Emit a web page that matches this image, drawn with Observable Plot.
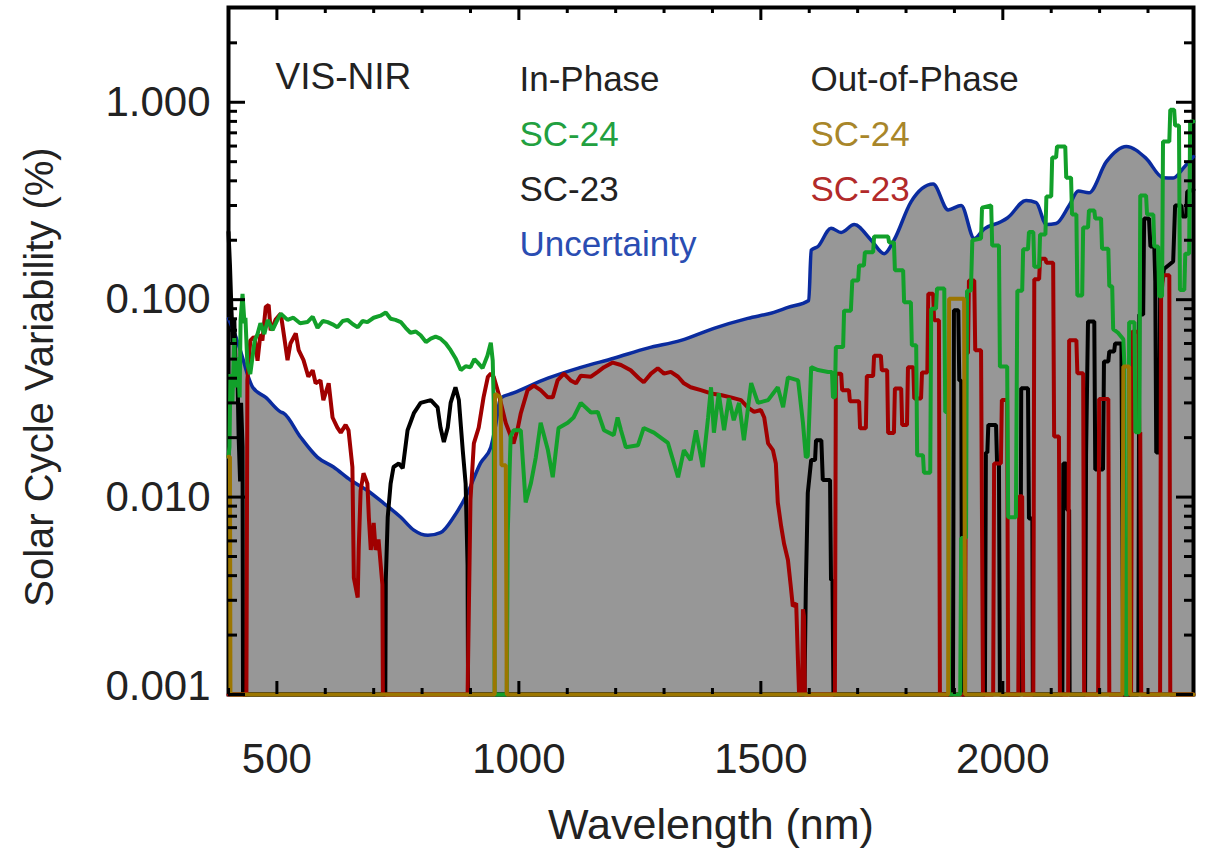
<!DOCTYPE html>
<html>
<head>
<meta charset="utf-8">
<script src="https://cdn.jsdelivr.net/npm/d3@7"></script>
<script src="https://cdn.jsdelivr.net/npm/@observablehq/plot@0.6"></script>
<style>
  html, body { margin: 0; padding: 0; background: #fff; }
</style>
</head>
<body>
<div id="chart"></div>
<script>
// ---------- data: [wavelength nm, variability %] (0 = below the 0.001 floor) ----------
const uncertainty = [[400,0.08],[415,0.065],[429,0.051],[439,0.042],[450,0.036],[477,0.032],[508,0.027],[514,0.0266],[549,0.0201],[584,0.0159],[617,0.0142],[652,0.0122],[687,0.0108],[721,0.0093],[756,0.0079],[783,0.0068],[812,0.0064],[838,0.0066],[865,0.0079],[894,0.0105],[921,0.0149],[942,0.0179],[952,0.0231],[962,0.0317],[989,0.0337],[1060,0.040],[1128,0.0454],[1196,0.0505],[1266,0.0568],[1335,0.0622],[1403,0.0716],[1473,0.0804],[1527,0.0863],[1556,0.0914],[1599,0.0991],[1604,0.178],[1618,0.186],[1645,0.230],[1666,0.219],[1693,0.240],[1728,0.200],[1755,0.171],[1775,0.200],[1810,0.312],[1856,0.385],[1887,0.285],[1914,0.300],[1941,0.204],[1961,0.228],[1996,0.248],[2010,0.26],[2048,0.318],[2069,0.31],[2090,0.24],[2110,0.243],[2137,0.30],[2156,0.355],[2178,0.348],[2214,0.50],[2255,0.597],[2296,0.52],[2331,0.415],[2352,0.413],[2375,0.47],[2394,0.53]];

const inPhaseSC24 = [[400,0.016],[402,0.018],[404,0.042],[408,0.030],[412,0.064],[414,0.036],[419,0.051],[423,0.032],[425,0.079],[429,0.107],[433,0.076],[435,0.081],[439,0.047],[445,0.042],[454,0.062],[460,0.067],[466,0.076],[474,0.067],[481,0.079],[491,0.070],[501,0.079],[508,0.085],[522,0.079],[534,0.081],[548,0.076],[563,0.077],[574,0.082],[584,0.072],[595,0.078],[605,0.077],[615,0.075],[625,0.0725],[636,0.078],[646,0.079],[657,0.075],[667,0.0725],[677,0.078],[687,0.077],[700,0.081],[714,0.083],[725,0.086],[735,0.080],[745,0.079],[756,0.077],[766,0.072],[776,0.068],[787,0.069],[797,0.066],[808,0.061],[818,0.0635],[828,0.065],[838,0.0635],[849,0.060],[859,0.0555],[870,0.050],[880,0.044],[890,0.046],[900,0.0455],[908,0.050],[915,0.048],[925,0.045],[935,0.052],[942,0.0605],[946,0.049],[948,0.030],[950,0],[975,0],[977,0.0066],[983,0.0203],[989,0.0218],[1004,0.0218],[1014,0.0094],[1025,0.0118],[1035,0.0159],[1045,0.0238],[1060,0.0173],[1070,0.0126],[1082,0.0224],[1101,0.0238],[1113,0.0253],[1128,0.030],[1149,0.0268],[1163,0.027],[1176,0.0218],[1196,0.0206],[1204,0.0253],[1211,0.0218],[1221,0.0179],[1246,0.0183],[1258,0.0224],[1279,0.0212],[1308,0.0188],[1329,0.0126],[1341,0.0173],[1355,0.0154],[1366,0.0218],[1380,0.0142],[1391,0.0253],[1397,0.036],[1403,0.0212],[1413,0.0336],[1424,0.0218],[1434,0.0317],[1444,0.0245],[1455,0.030],[1465,0.0194],[1480,0.0378],[1494,0.030],[1515,0.031],[1535,0.036],[1546,0.0285],[1556,0.0404],[1577,0.039],[1587,0.0238],[1593,0.0159],[1597,0.0161],[1604,0.0455],[1618,0.044],[1639,0.043],[1647,0.043],[1649,0.032],[1653,0.032],[1655,0.0575],[1670,0.0575],[1672,0.088],[1686,0.088],[1689,0.125],[1701,0.125],[1703,0.149],[1713,0.149],[1715,0.174],[1732,0.174],[1734,0.209],[1763,0.209],[1765,0.195],[1775,0.195],[1777,0.141],[1794,0.141],[1796,0.097],[1810,0.097],[1812,0.0588],[1821,0.0588],[1823,0.0163],[1835,0.0163],[1837,0.0133],[1850,0.0133],[1852,0.090],[1862,0.090],[1864,0.114],[1879,0.114],[1881,0.027],[1887,0.027],[1889,0],[1912,0],[1914,0.0062],[1924,0.0062],[1926,0.111],[1934,0.111],[1937,0.20],[1955,0.204],[1957,0.292],[1976,0.30],[1978,0.188],[1992,0.188],[1994,0.0458],[2009,0.0458],[2011,0.0079],[2027,0.0079],[2030,0.111],[2040,0.111],[2042,0.18],[2052,0.18],[2054,0.22],[2063,0.22],[2065,0.147],[2075,0.147],[2077,0.214],[2088,0.214],[2090,0.333],[2100,0.333],[2102,0.525],[2110,0.525],[2112,0.597],[2129,0.597],[2131,0.415],[2141,0.415],[2143,0.27],[2152,0.27],[2154,0.105],[2164,0.105],[2166,0.232],[2176,0.232],[2178,0.283],[2189,0.283],[2191,0.258],[2203,0.258],[2205,0.181],[2218,0.181],[2220,0.117],[2226,0.117],[2228,0.071],[2238,0.068],[2249,0.063],[2251,0.048],[2252,0],[2259,0],[2261,0.0768],[2272,0.0768],[2274,0.0213],[2282,0.0213],[2284,0.337],[2296,0.337],[2298,0.27],[2311,0.27],[2313,0.186],[2321,0.186],[2323,0.104],[2329,0.104],[2331,0.632],[2344,0.632],[2346,0.917],[2354,0.917],[2356,0.762],[2364,0.762],[2366,0.112],[2375,0.112],[2377,0.171],[2385,0.171],[2387,0.80],[2394,0.80]];

const inPhaseSC23 = [[400,0.22],[403,0.15],[406,0.09],[409,0.06],[412,0.08],[415,0.04],[418,0.05],[421,0.02],[424,0.012],[426,0.03],[429,0.018],[430,0],[724,0],[725,0.0038],[729,0.0079],[735,0.0117],[741,0.0142],[752,0.0148],[760,0.014],[770,0.0218],[783,0.0266],[797,0.030],[818,0.031],[832,0.0285],[838,0.0225],[845,0.019],[853,0.0225],[859,0.030],[869,0.036],[876,0.031],[884,0.0173],[890,0.0117],[894,0.0045],[895,0],[1590,0],[1593,0.0035],[1597,0.0105],[1604,0.0154],[1612,0.0154],[1614,0.0194],[1625,0.0194],[1628,0.0122],[1643,0.0122],[1645,0.0038],[1648,0.0038],[1650,0],[1897,0],[1899,0.0884],[1908,0.0884],[1910,0.039],[1914,0.039],[1916,0],[1963,0],[1965,0.0168],[1968,0.0168],[1970,0.0232],[1986,0.0232],[1988,0.0151],[1992,0.0151],[1994,0],[2036,0],[2038,0.0356],[2052,0.0356],[2054,0.0078],[2061,0.0078],[2062,0],[2123,0],[2125,0.0148],[2131,0.0148],[2133,0.0086],[2137,0.0086],[2138,0],[2170,0],[2172,0.0164],[2176,0.0775],[2189,0.0775],[2191,0.0138],[2207,0.0138],[2209,0.0486],[2218,0.0486],[2220,0.0547],[2230,0.0547],[2232,0.060],[2245,0.060],[2249,0],[2280,0],[2282,0.084],[2290,0.084],[2292,0.258],[2302,0.258],[2305,0.186],[2313,0.186],[2315,0.124],[2317,0.0168],[2323,0.0168],[2325,0.104],[2333,0.143],[2352,0.156],[2356,0.30],[2369,0.30],[2371,0.264],[2379,0.264],[2381,0.353],[2394,0.36]];

const outPhaseSC23 = [[400,0],[437,0],[439,0.039],[445,0.062],[452,0.0646],[454,0.064],[460,0.049],[466,0.067],[470,0.062],[477,0.092],[483,0.094],[487,0.070],[491,0.0725],[497,0.079],[508,0.085],[514,0.0675],[522,0.0494],[528,0.060],[539,0.0675],[545,0.0555],[555,0.0494],[565,0.0407],[574,0.0439],[580,0.0377],[590,0.039],[596,0.031],[607,0.0377],[615,0.0253],[625,0.0225],[632,0.0212],[642,0.0232],[648,0.0218],[656,0.0142],[659,0.0039],[667,0.0031],[669,0.0054],[673,0.0108],[679,0.0132],[687,0.0117],[690,0.0079],[694,0.0054],[700,0.0074],[704,0.0054],[710,0.0061],[718,0.0036],[719,0],[894,0],[900,0.0097],[907,0.0187],[917,0.0225],[927,0.032],[936,0.0407],[942,0.0422],[948,0.0407],[958,0.0335],[973,0.0237],[989,0.0187],[998,0.0225],[1004,0.0266],[1018,0.0348],[1031,0.0367],[1045,0.0348],[1060,0.032],[1070,0.032],[1080,0.039],[1093,0.0422],[1107,0.039],[1118,0.0377],[1128,0.0412],[1149,0.0407],[1163,0.0431],[1176,0.0455],[1194,0.048],[1211,0.0467],[1231,0.0439],[1248,0.040],[1258,0.0382],[1273,0.0422],[1287,0.0449],[1300,0.0422],[1314,0.0431],[1329,0.0407],[1341,0.0377],[1355,0.036],[1376,0.0348],[1397,0.0335],[1417,0.0329],[1438,0.032],[1459,0.031],[1473,0.0285],[1486,0.027],[1500,0.0276],[1507,0.0253],[1515,0.0187],[1525,0.0173],[1531,0.0148],[1535,0.0094],[1542,0.0071],[1548,0.0058],[1556,0.0048],[1562,0.0035],[1566,0.0028],[1573,0.0029],[1577,0.0014],[1579,0],[1585,0],[1587,0.0027],[1589,0.0025],[1591,0],[1653,0],[1655,0.0422],[1666,0.0422],[1668,0.0348],[1682,0.0348],[1684,0.0306],[1703,0.0306],[1705,0.0223],[1717,0.0223],[1719,0.041],[1732,0.041],[1734,0.052],[1748,0.052],[1750,0.0439],[1761,0.0439],[1763,0.0211],[1775,0.0211],[1777,0.0355],[1790,0.0355],[1792,0.0232],[1802,0.0232],[1804,0.0455],[1815,0.0455],[1817,0.0316],[1831,0.0316],[1833,0.0428],[1844,0.0428],[1846,0.107],[1856,0.107],[1858,0.0787],[1868,0.0787],[1870,0],[1922,0],[1924,0.0535],[1928,0.0535],[1930,0.125],[1941,0.125],[1943,0.0555],[1955,0.0555],[1959,0],[1980,0],[1982,0.0148],[1996,0.0148],[1998,0.031],[2009,0.031],[2011,0],[2032,0],[2034,0.0101],[2040,0.0101],[2042,0],[2063,0],[2065,0.127],[2075,0.127],[2077,0.161],[2088,0.161],[2090,0.154],[2104,0.154],[2106,0.0203],[2116,0.0203],[2118,0],[2135,0],[2137,0.0623],[2152,0.0623],[2154,0.0424],[2166,0.0424],[2168,0],[2197,0],[2199,0.0314],[2218,0.0314],[2220,0],[2265,0],[2267,0.0688],[2280,0.0688],[2282,0.0213],[2284,0.0213],[2286,0],[2325,0],[2327,0.101],[2331,0.133],[2344,0.133],[2346,0],[2394,0]];

const outPhaseSC24 = [[400,0.016],[403,0.016],[404,0],[950,0],[951,0.0334],[962,0.032],[964,0.0145],[973,0.0145],[975,0],[1887,0],[1889,0.101],[1920,0.101],[1922,0],[2247,0],[2249,0.0458],[2261,0.0458],[2263,0],[2394,0]];

// ---------- axes / labels ----------
const xDomain = [400, 2394];
const yDomain = [0.001, 3.02];
const xTickLabels = [500, 1000, 1500, 2000];
const xMinorTicks = d3.range(400, 2400, 100).filter(d => d % 500 !== 0);
const yTickLabels = [0.001, 0.01, 0.1, 1];
const yMinorTicks = [-3, -2, -1, 0].flatMap(k => d3.range(2, 10).map(m => m * Math.pow(10, k))).filter(d => d < 3);
const legendLeft = ["In-Phase", "SC-24", "SC-23", "Uncertainty"];
const legendLeftColors = ["#222222", "#22a040", "#222222", "#2a4db2"];
const legendRight = ["Out-of-Phase", "SC-24", "SC-23"];
const legendRightColors = ["#222222", "#a8862a", "#b22a2a"];

const FLOOR = 0.001;
const rows = s => s.map(([wl, v]) => ({wl, v: Math.max(v, FLOOR)}));

const W = 1211, H = 854;
const mL = 228, mR = 18, mT = 7, mB = 160;
const innerW = W - mL - mR, innerH = H - mT - mB;
const FONT = "'Liberation Sans', Arial, Helvetica, sans-serif";
const lw = 4;

const legendMarks = [
  ...legendLeft.map((t, i) => Plot.text([t], {text: d => d, frameAnchor: "top-left", dx: 291, dy: 72.5 + 55 * i, textAnchor: "start", lineAnchor: "middle", fontSize: 35, fill: legendLeftColors[i]})),
  ...legendRight.map((t, i) => Plot.text([t], {text: d => d, frameAnchor: "top-left", dx: 582, dy: 72.5 + 55 * i, textAnchor: "start", lineAnchor: "middle", fontSize: 35, fill: legendRightColors[i]}))
];

const chart = Plot.plot({
  width: W, height: H,
  marginLeft: mL, marginRight: mR, marginTop: mT, marginBottom: mB,
  style: {fontFamily: FONT, color: "#222", background: "white", overflow: "visible"},
  x: {domain: xDomain},
  y: {type: "log", domain: yDomain},
  marks: [
    Plot.areaY(rows(uncertainty), {x: "wl", y1: () => FLOOR, y2: "v", fill: "#979797", curve: "monotone-x"}),
    Plot.frame({stroke: "black", strokeWidth: 4}),
    Plot.line(rows(uncertainty), {x: "wl", y: "v", stroke: "#0a2b9e", strokeWidth: 3.5, curve: "monotone-x"}),
    Plot.line(rows(inPhaseSC23), {x: "wl", y: "v", stroke: "#000000", strokeWidth: lw, strokeLinejoin: "miter"}),
    Plot.line(rows(outPhaseSC23), {x: "wl", y: "v", stroke: "#a00000", strokeWidth: lw, strokeLinejoin: "miter"}),
    Plot.line(rows(inPhaseSC24), {x: "wl", y: "v", stroke: "#12a02a", strokeWidth: lw, strokeLinejoin: "miter"}),
    Plot.line(rows(outPhaseSC24), {x: "wl", y: "v", stroke: "#9c7600", strokeWidth: lw, strokeLinejoin: "miter"}),

    // inward ticks
    Plot.tickY(yTickLabels, {y: d => d, insetRight: innerW - 17, stroke: "black", strokeWidth: 3}),
    Plot.tickY(yTickLabels, {y: d => d, insetLeft: innerW - 17, stroke: "black", strokeWidth: 3}),
    Plot.tickY(yMinorTicks, {y: d => d, insetRight: innerW - 9, stroke: "black", strokeWidth: 3}),
    Plot.tickY(yMinorTicks, {y: d => d, insetLeft: innerW - 9, stroke: "black", strokeWidth: 3}),
    Plot.tickX(xTickLabels, {x: d => d, insetTop: innerH - 13, stroke: "black", strokeWidth: 3}),
    Plot.tickX(xTickLabels, {x: d => d, insetBottom: innerH - 13, stroke: "black", strokeWidth: 3}),
    Plot.tickX(xMinorTicks, {x: d => d, insetTop: innerH - 6, stroke: "black", strokeWidth: 3}),
    Plot.tickX(xMinorTicks, {x: d => d, insetBottom: innerH - 6, stroke: "black", strokeWidth: 3}),

    // tick labels
    Plot.axisY({ticks: yTickLabels.slice(1), tickSize: 0, tickPadding: 18, tickFormat: d => d.toFixed(3), fontSize: 42, label: null, fill: "#222"}),
    Plot.axisY({ticks: yTickLabels.slice(0, 1), tickSize: 0, tickPadding: 18, tickFormat: d => d.toFixed(3), fontSize: 42, label: null, dy: -8, fill: "#222"}),
    Plot.axisX({ticks: xTickLabels, tickSize: 0, tickPadding: 49, tickFormat: d => String(d), fontSize: 42, label: null, fill: "#222"}),

    // axis titles
    Plot.text(["Wavelength (nm)"], {text: d => d, frameAnchor: "bottom", dy: 131, textAnchor: "middle", lineAnchor: "middle", fontSize: 43, fill: "#222"}),
    Plot.text(["Solar Cycle Variability (%)"], {text: d => d, frameAnchor: "left", dx: -188, dy: 26, rotate: -90, textAnchor: "middle", lineAnchor: "middle", fontSize: 40, fill: "#222"}),

    // panel label and legend
    Plot.text(["VIS-NIR"], {text: d => d, frameAnchor: "top-left", dx: 47, dy: 70, textAnchor: "start", lineAnchor: "middle", fontSize: 37, fill: "#222"}),
    ...legendMarks
  ]
});
document.getElementById("chart").appendChild(chart);
</script>
</body>
</html>
